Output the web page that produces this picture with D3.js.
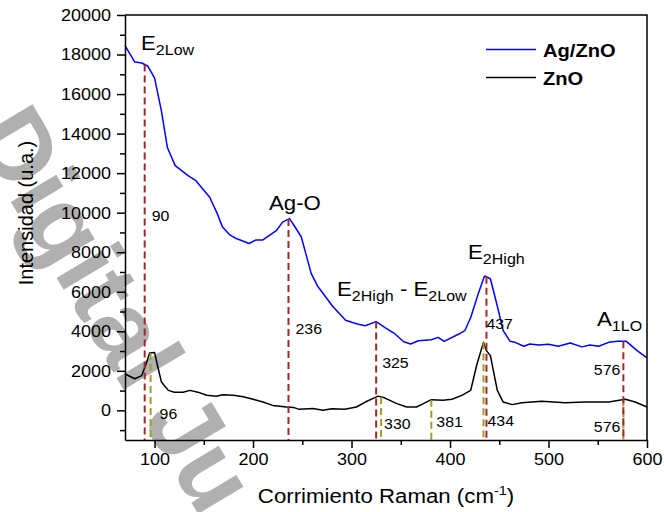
<!DOCTYPE html>
<html>
<head>
<meta charset="utf-8">
<script src="https://cdn.jsdelivr.net/npm/d3@7/dist/d3.min.js"></script>
<style>
  html, body { margin: 0; padding: 0; background: #fff; }
  svg { display: block; }
  text { font-family: "Liberation Sans", Arial, sans-serif; }
</style>
</head>
<body>
<svg id="chart" width="664" height="512"></svg>
<script>
// Raman spectra: Ag/ZnO (blue) and ZnO (black)
const agznoShift = [70, 80, 87, 93, 100, 107, 113, 121, 134, 142, 156, 163, 169, 176, 183, 196, 203, 210, 217, 224, 230, 237, 243, 249, 254, 259, 266, 281, 294, 301, 307, 314, 325, 334, 343, 353, 360, 368, 381, 388, 394, 409, 415, 421, 429, 435, 441, 448, 454, 461, 466, 475, 481, 490, 500, 510, 522, 534, 542, 551, 561, 570, 579, 590, 600];
const agznoIntensity = [18450, 17620, 17570, 17420, 16820, 15140, 13300, 12380, 11870, 11620, 10780, 10030, 9270, 8890, 8690, 8440, 8620, 8620, 8860, 9110, 9520, 9700, 9250, 8770, 7850, 6930, 6250, 5250, 4560, 4440, 4360, 4280, 4490, 4190, 3910, 3470, 3360, 3520, 3570, 3690, 3490, 3860, 4030, 4700, 5950, 6800, 6660, 5280, 4030, 3490, 3440, 3240, 3360, 3310, 3340, 3240, 3410, 3210, 3310, 3240, 3440, 3490, 3490, 3020, 2650];

const znoShift = [70, 80, 87, 92, 95, 100, 103, 107, 114, 120, 129, 136, 144, 153, 163, 169, 180, 190, 200, 210, 220, 234, 241, 247, 261, 271, 280, 293, 305, 314, 327, 334, 346, 356, 366, 373, 381, 393, 402, 412, 421, 427, 434, 437, 441, 448, 454, 463, 473, 493, 517, 537, 561, 578, 588, 600];
const znoIntensity = [1840, 1600, 1760, 2430, 2900, 2930, 2270, 1430, 1010, 920, 920, 1010, 920, 760, 710, 790, 760, 690, 560, 420, 250, 170, 150, 50, 90, 0, 85, 50, 170, 420, 720, 620, 340, 170, 170, 340, 540, 510, 560, 760, 1010, 2270, 3450, 3020, 2770, 1010, 420, 290, 390, 460, 390, 420, 420, 560, 420, 170];

// Assigned band positions (cm-1)
const agznoPeaks = [90, 236, 325, 437, 576];
const znoPeaks = [96, 330, 381, 434, 576];

// Axis ticks
const xTicks = [100, 200, 300, 400, 500, 600];
const xMinorTicks = [150, 250, 350, 450, 550];
const yTicks = [0, 2000, 4000, 6000, 8000, 10000, 12000, 14000, 16000, 18000, 20000];
const yMinorTicks = [-1000, 1000, 3000, 5000, 7000, 9000, 11000, 13000, 15000, 17000, 19000];

const seriesNames = ["Ag/ZnO", "ZnO"];
const seriesColors = ["#0000ff", "#000000"];

const width = 664, height = 512;
const margin = { left: 125, right: 17, top: 15, bottom: 72 };
const svg = d3.select("#chart");

const x = d3.scaleLinear().domain([70, 600]).range([margin.left, width - margin.right]);
const y = d3.scaleLinear().domain([-1500, 20000]).range([height - margin.bottom, margin.top]);

const TEXT_STRETCH = 1.06;

// Helper: horizontal label made of normal / sub / sup parts
function label(parent, px, py, parts, size, opts = {}) {
  const t = parent.append("text")
    .attr("transform", `translate(${px},${py}) scale(${TEXT_STRETCH},1)`)
    .attr("font-size", size)
    .attr("fill", opts.fill || "#000")
    .attr("font-weight", opts.weight || "normal")
    .attr("text-anchor", opts.anchor || "start");
  let shift = 0;
  parts.forEach(p => {
    const s = t.append("tspan").text(p.t);
    let target = 0;
    if (p.sub) { s.attr("font-size", size * 0.72); target = size * 0.26; }
    if (p.sup) { s.attr("font-size", size * 0.65); target = -size * 0.4; }
    s.attr("dy", target - shift);
    shift = target;
  });
  return t;
}

// Background watermark
svg.append("text")
  .attr("transform", "translate(-30,134) rotate(59)")
  .attr("font-size", 100)
  .attr("font-weight", "bold")
  .attr("fill", "#b0b0b0")
  .text("Digital Ju");

// Series
const agData = agznoShift.map((d, i) => [d, agznoIntensity[i]]);
const znData = znoShift.map((d, i) => [d, znoIntensity[i]]);

const line = d3.line().x(d => x(d[0])).y(d => y(d[1]));

svg.append("path").datum(znData)
  .attr("fill", "none").attr("stroke", seriesColors[1]).attr("stroke-width", 1.5)
  .attr("stroke-linejoin", "round").attr("d", line);
svg.append("path").datum(agData)
  .attr("fill", "none").attr("stroke", seriesColors[0]).attr("stroke-width", 1.5)
  .attr("stroke-linejoin", "round").attr("d", line);

// Value of a spectrum at a given shift (linear interpolation)
function valueAt(xs, ys, v) {
  const i = d3.bisectLeft(xs, v);
  if (i <= 0) return ys[0];
  if (i >= xs.length) return ys[ys.length - 1];
  const t = (v - xs[i - 1]) / (xs[i] - xs[i - 1]);
  return ys[i - 1] + t * (ys[i] - ys[i - 1]);
}

// Peak markers
const peakGroups = [
  { peaks: znoPeaks, xs: znoShift, ys: znoIntensity, color: "#9e9e2a" },
  { peaks: agznoPeaks, xs: agznoShift, ys: agznoIntensity, color: "#a3282b" }
];
peakGroups.forEach(g => {
  svg.selectAll(null).data(g.peaks).enter().append("line")
    .attr("x1", d => x(d)).attr("x2", d => x(d))
    .attr("y1", d => y(valueAt(g.xs, g.ys, d)))
    .attr("y2", y(-1500))
    .attr("stroke", g.color).attr("stroke-width", 2)
    .attr("stroke-dasharray", "7,4");
});

// Peak position labels: [dx, baseline y, anchor]
const agLabelPlace = [[7, 221, "start"], [7, 334, "start"], [6, 368, "start"], [0, 329, "start"], [-3, 375, "end"]];
const znLabelPlace = [[9, 419, "start"], [3, 429, "start"], [5, 427, "start"], [4, 426, "start"], [-3, 432, "end"]];
agznoPeaks.forEach((p, i) => {
  const [dx, by, anchor] = agLabelPlace[i];
  label(svg, x(p) + dx, by, [{ t: String(p) }], 15, { anchor });
});
znoPeaks.forEach((p, i) => {
  const [dx, by, anchor] = znLabelPlace[i];
  label(svg, x(p) + dx, by, [{ t: String(p) }], 15, { anchor });
});

// Mode assignments
label(svg, 141, 50, [{ t: "E" }, { t: "2Low", sub: true }], 21);
label(svg, 269, 210, [{ t: "Ag-O" }], 21);
label(svg, 337, 296, [{ t: "E" }, { t: "2High", sub: true }, { t: " - E" }, { t: "2Low", sub: true }], 21);
label(svg, 468, 259, [{ t: "E" }, { t: "2High", sub: true }], 21);
label(svg, 597, 326, [{ t: "A" }, { t: "1LO", sub: true }], 21);

// Axes
const fmt = d3.format("d");
const xAxis = svg.append("g").attr("transform", `translate(0,${y(-1500)})`)
  .call(d3.axisBottom(x).tickValues(xTicks).tickFormat(fmt).tickSize(8).tickSizeOuter(0).tickPadding(5));
svg.append("g").attr("transform", `translate(0,${y(-1500)})`)
  .call(d3.axisBottom(x).tickValues(xMinorTicks).tickFormat("").tickSize(5).tickSizeOuter(0))
  .select(".domain").remove();
const yAxis = svg.append("g").attr("transform", `translate(${x(70)},0)`)
  .call(d3.axisLeft(y).tickValues(yTicks).tickFormat(fmt).tickSize(8).tickSizeOuter(0).tickPadding(6));
svg.append("g").attr("transform", `translate(${x(70)},0)`)
  .call(d3.axisLeft(y).tickValues(yMinorTicks).tickFormat("").tickSize(5).tickSizeOuter(0))
  .select(".domain").remove();

svg.selectAll(".domain, .tick line").attr("stroke", "#000").attr("stroke-width", 1.5);
[xAxis, yAxis].forEach(a => a.selectAll(".tick text")
  .attr("font-size", 17).attr("fill", "#000")
  .attr("font-family", "Liberation Sans, Arial, sans-serif"));
xAxis.selectAll(".tick text").attr("transform", `scale(${TEXT_STRETCH},1)`);
yAxis.selectAll(".tick text").each(function () {
  d3.select(this).attr("transform", `translate(-14,0) scale(${TEXT_STRETCH},1)`).attr("x", 0);
});

// Frame (top and right)
svg.append("path")
  .attr("d", `M${x(70)},${y(20000)}H${x(600)}V${y(-1500)}`)
  .attr("fill", "none").attr("stroke", "#000").attr("stroke-width", 1.5);

// Axis titles
label(svg, x(335), 503, [{ t: "Corrimiento Raman (cm" }, { t: "-1", sup: true }, { t: ")" }], 21, { anchor: "middle" });
svg.append("text")
  .attr("transform", "translate(33,213) rotate(-90)")
  .attr("text-anchor", "middle").attr("font-size", 20).attr("fill", "#000")
  .text("Intensidad (u.a.)");

// Legend
const legendRows = [49.5, 77.5];
seriesNames.forEach((name, i) => {
  svg.append("line")
    .attr("x1", 486).attr("x2", 536).attr("y1", legendRows[i]).attr("y2", legendRows[i])
    .attr("stroke", seriesColors[i]).attr("stroke-width", 1.5);
  label(svg, 543, legendRows[i] + 7, [{ t: name }], 19, { weight: "bold" });
});
</script>
</body>
</html>
